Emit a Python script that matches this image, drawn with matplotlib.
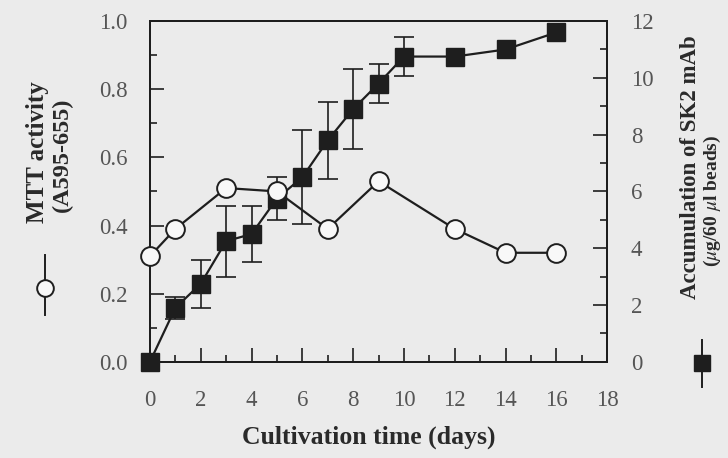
import matplotlib
matplotlib.use("Agg")
import matplotlib.pyplot as plt
from matplotlib.lines import Line2D

plt.rcParams['font.family'] = ['Liberation Serif', 'DejaVu Serif']
plt.rcParams['mathtext.fontset'] = 'stix'

# MTT activity (left axis, open circles)
days_mtt = [0, 1, 3, 5, 7, 9, 12, 14, 16]
mtt = [0.31, 0.39, 0.51, 0.50, 0.39, 0.53, 0.39, 0.32, 0.32]

# SK2 mAb accumulation (right axis, filled squares)
days_sk2 = [0, 1, 2, 3, 4, 5, 6, 7, 8, 9, 10, 12, 14, 16]
sk2 = [0, 1.9, 2.75, 4.25, 4.5, 5.75, 6.5, 7.8, 8.9, 9.8, 10.75, 10.75, 11.0, 11.6]
sk2_err = [0, 0.4, 0.85, 1.25, 1.0, 0.75, 1.65, 1.35, 1.4, 0.7, 0.7, 0, 0, 0]

xticks = [0, 2, 4, 6, 8, 10, 12, 14, 16, 18]
left_ticks = [0.0, 0.2, 0.4, 0.6, 0.8, 1.0]
right_ticks = [0, 2, 4, 6, 8, 10, 12]

bg = '#ebebeb'
ink = '#1e1e1e'
tick_col = '#555555'
lab_col = '#2a2a2a'

fig = plt.figure(figsize=(7.28, 4.58), dpi=100, facecolor=bg)
ax = fig.add_axes([0.206, 0.21, 0.628, 0.744])
ax.set_facecolor(bg)
ax2 = ax.twinx()

# squares on the primary axes (right scale), circles on the twin so they sit on top
ax.yaxis.tick_right()
ax2.yaxis.tick_left()

ed = [(d, v, e) for d, v, e in zip(days_sk2, sk2, sk2_err) if e > 0]
ax.errorbar([t[0] for t in ed], [t[1] for t in ed], yerr=[t[2] for t in ed],
            fmt='none', ecolor=ink, elinewidth=1.2, capsize=7, capthick=1.2, zorder=2)
ax.plot(days_sk2, sk2, color=ink, lw=1.6, marker='s', ms=12.5,
        mfc=ink, mec=ink, zorder=3, clip_on=False)

ax2.plot(days_mtt, mtt, color=ink, lw=1.6, marker='o', ms=13.5,
         mfc='#f8f8f8', mec=ink, mew=1.4, zorder=3, clip_on=False)

ax.set_xlim(0, 18)
ax.set_ylim(0, 12)
ax2.set_ylim(0, 1.0)
ax.set_xticks(xticks)
ax.set_xticks(range(0, 19), minor=True)
ax.set_yticks(right_ticks)
ax.set_yticks(range(0, 13), minor=True)
ax2.set_yticks(left_ticks)
ax2.set_yticks([i / 10 for i in range(11)], minor=True)
ax2.set_yticklabels(['%.1f' % v for v in left_ticks])

for a in (ax, ax2):
    for s in a.spines.values():
        s.set_color(ink)
        s.set_linewidth(1.4)
    a.tick_params(which='major', direction='in', length=10, width=1.2,
                  color=ink, labelsize=16.5, labelcolor=tick_col)
    a.tick_params(which='minor', direction='in', length=5, width=1.2, color=ink)
ax.tick_params(axis='x', which='both', top=False, pad=20)
ax.tick_params(axis='y', which='both', left=False, right=True, pad=17)
ax2.tick_params(axis='y', which='both', left=True, right=False, pad=16)

fig.text(0.506, 0.046, 'Cultivation time (days)', ha='center', va='center',
         fontsize=18.5, fontweight='bold', color=lab_col)
fig.text(0.051, 0.668, 'MTT activity', rotation=90, ha='center', va='center',
         fontsize=18, fontweight='bold', color=lab_col)
fig.text(0.085, 0.662, '(A595-655)', rotation=90, ha='center', va='center',
         fontsize=17.5, fontweight='bold', color=lab_col)
fig.text(0.949, 0.635, 'Accumulation of SK2 mAb', rotation=90, ha='center', va='center',
         fontsize=16.5, fontweight='bold', color=lab_col)
fig.text(0.979, 0.561, r'($\mu$g/60 $\mu$l beads)', rotation=90, ha='center', va='center',
         fontsize=14, fontweight='bold', color=lab_col)

# key symbols next to the axis titles
fig.add_artist(Line2D([0.0618, 0.0618], [0.312, 0.443], color=ink, lw=1.4,
                      transform=fig.transFigure))
fig.add_artist(Line2D([0.0618], [0.371], marker='o', ms=12, mfc='#f8f8f8', mec=ink,
                      mew=1.4, transform=fig.transFigure))
fig.add_artist(Line2D([0.964, 0.964], [0.155, 0.258], color=ink, lw=1.4,
                      transform=fig.transFigure))
fig.add_artist(Line2D([0.964], [0.2074], marker='s', ms=12, mfc=ink, mec=ink,
                      transform=fig.transFigure))

fig.savefig('out.png', dpi=100, facecolor=bg)
